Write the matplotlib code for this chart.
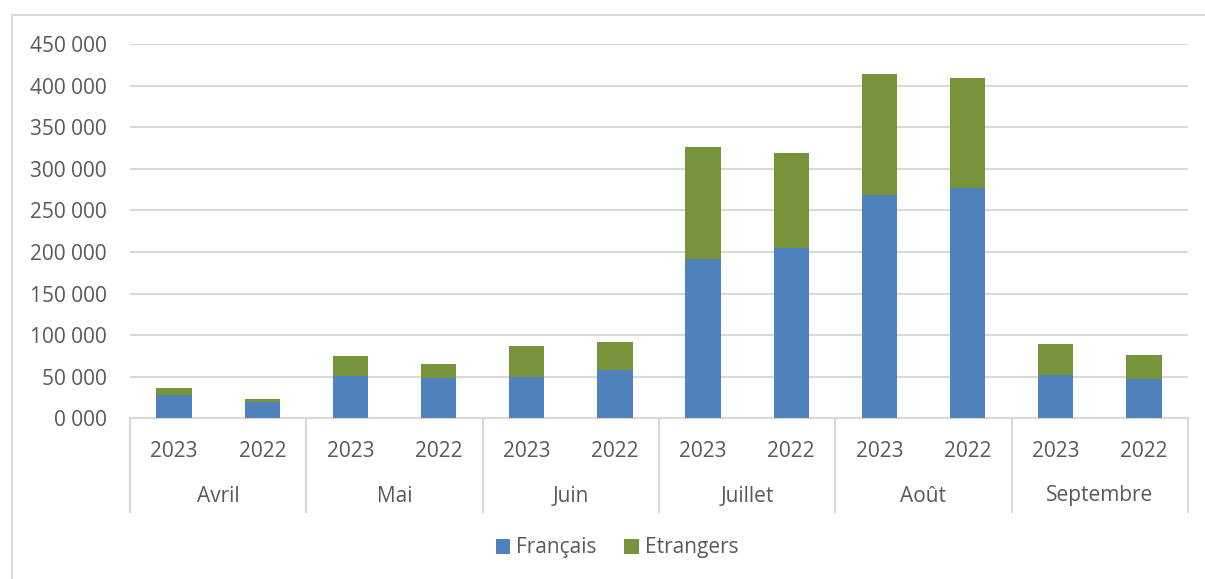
import matplotlib.pyplot as plt
import matplotlib.transforms as mtransforms
from matplotlib.patches import Rectangle

mois = ['Avril', 'Mai', 'Juin', 'Juillet', 'Août', 'Septembre']
annees = ['2023', '2022']
francais = [28000, 19200, 51200, 48800, 50000, 58000,
            191000, 205000, 268400, 276400, 51700, 47200]
totaux = [36000, 23200, 74900, 64900, 86900, 91300,
          325700, 319200, 414200, 409400, 89300, 76100]
etrangers = [t - f for t, f in zip(totaux, francais)]

bleu = '#4F81BD'
vert = '#77933C'
gris = '#D9D9D9'
texte = '#595959'
taille = 15

plt.rcParams['font.family'] = ['Open Sans', 'DejaVu Sans']

W, H = 1205, 579
fig = plt.figure(figsize=(W / 100, H / 100), dpi=100)

# cadre du graphique
fig.patches.append(Rectangle((12 / W, -0.1), 1.2, 1 - 15 / H + 0.1,
                             transform=fig.transFigure, fill=False,
                             edgecolor=gris, linewidth=1.5))

x0, x1 = 130, 1188
y_bas, y_haut = 418.3, 44
ax = fig.add_axes([x0 / W, 1 - y_bas / H, (x1 - x0) / W, (y_bas - y_haut) / H])

n = len(francais)
xs = list(range(n))
ax.bar(xs, francais, width=0.4, color=bleu, label='Français', zorder=3)
ax.bar(xs, etrangers, bottom=francais, width=0.4, color=vert,
       label='Etrangers', zorder=3)

ax.set_xlim(-0.5, n - 0.5)
ax.set_ylim(0, 450000)
yt = list(range(0, 450001, 50000))
ax.set_yticks(yt)
ax.set_yticklabels([f"{v // 1000} 000" for v in yt])
ax.yaxis.grid(True, color=gris, linewidth=1.5, zorder=0)
ax.tick_params(axis='y', length=0, pad=16.5, labelsize=taille, labelcolor=texte)

ax.set_xticks(xs)
ax.set_xticklabels(annees * len(mois))
ax.tick_params(axis='x', length=0, pad=16, labelsize=taille, labelcolor=texte)

for s in ['top', 'right', 'left']:
    ax.spines[s].set_visible(False)
ax.spines['bottom'].set_color(gris)
ax.spines['bottom'].set_linewidth(1.5)

trans = mtransforms.blended_transform_factory(ax.transData, ax.transAxes)
bas_sep = -(512 - y_bas) / (y_bas - y_haut)
for i in range(len(mois) + 1):
    xb = 2 * i - 0.5
    ax.plot([xb, xb], [0, bas_sep], color=gris, linewidth=1.5,
            transform=trans, clip_on=False)
for i, m in enumerate(mois):
    ax.text(2 * i + 0.5, -(496 - y_bas) / (y_bas - y_haut), m,
            transform=trans, ha='center', va='center',
            fontsize=taille, color=texte)

fig.legend(loc='center', bbox_to_anchor=(617 / W, 1 - 548 / H), ncol=2,
           frameon=False, handlelength=0.7, handleheight=0.7,
           handletextpad=0.3, columnspacing=1.3, fontsize=taille,
           labelcolor=texte)

fig.savefig('out.png', dpi=100)
